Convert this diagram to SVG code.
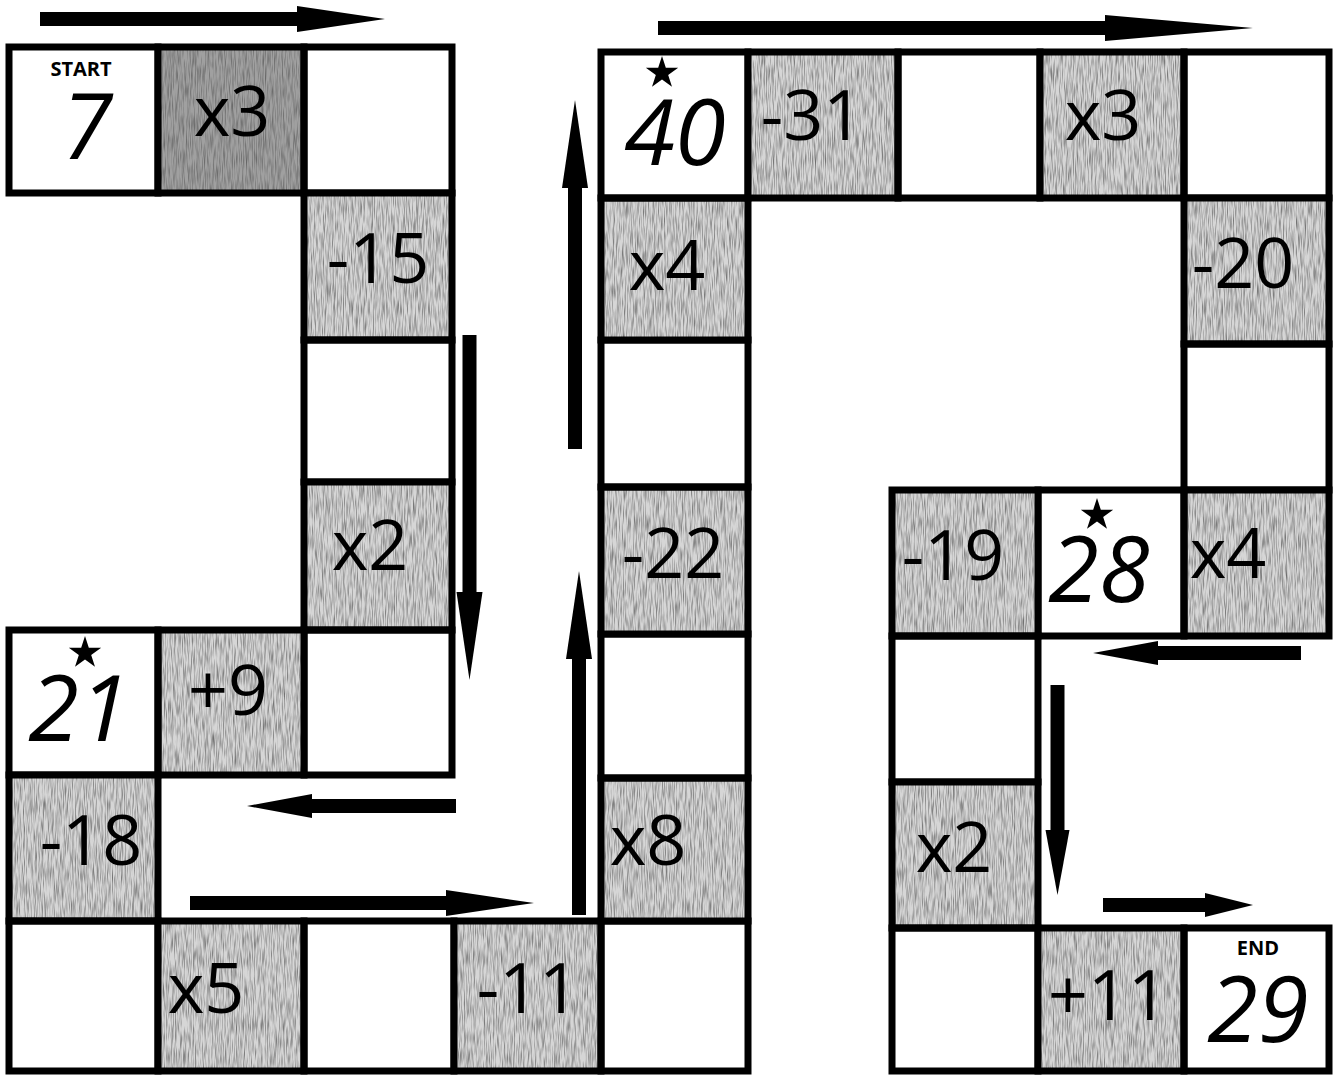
<svg xmlns="http://www.w3.org/2000/svg" xmlns:xlink="http://www.w3.org/1999/xlink" width="1334" height="1076" viewBox="0 0 1334 1076">
<style>
.cell{fill:none;stroke:#000;stroke-width:7}
.white{fill:#fff}
.light{fill:#d6d6d6}
.dark{fill:#a0a0a0}
.op{font-family:"Open Sans","Noto Sans",sans-serif;font-size:70px;fill:#000;text-anchor:middle}
.big{font-family:"Open Sans","Noto Sans",sans-serif;font-size:92px;font-style:italic;fill:#000;text-anchor:middle}
.tag{font-family:"Open Sans","Noto Sans",sans-serif;font-size:20px;font-weight:bold;fill:#000;text-anchor:middle}
.arrow{stroke:#000;stroke-width:14;fill:none}
</style>
<defs>
<filter id="grain" x="0" y="0" width="1" height="1" color-interpolation-filters="sRGB">
<feTurbulence type="fractalNoise" baseFrequency="0.9 0.06" numOctaves="2" seed="5" result="n"/>
<feColorMatrix in="n" type="matrix" values="0 0 0 0 0.35  0 0 0 0 0.35  0 0 0 0 0.35  1.6 0 0 0 -0.62" result="s"/>
<feComposite in="s" in2="SourceGraphic" operator="over"/>
</filter>
<path id="star" d="M0,-17 L3.82,-5.26 L16.17,-5.25 L6.18,2.01 L9.99,13.75 L0,6.5 L-9.99,13.75 L-6.18,2.01 L-16.17,-5.25 L-3.82,-5.26 Z" fill="#000"/>
<marker id="h88" markerUnits="userSpaceOnUse" markerWidth="90" markerHeight="26" refX="0" refY="13" orient="auto" overflow="visible"><path d="M0,0 L88,13 L0,26 Z" fill="#000"/></marker>
<marker id="h65" markerUnits="userSpaceOnUse" markerWidth="66" markerHeight="24" refX="0" refY="12" orient="auto" overflow="visible"><path d="M0,0 L65,12 L0,24 Z" fill="#000"/></marker>
<marker id="h148" markerUnits="userSpaceOnUse" markerWidth="150" markerHeight="26" refX="0" refY="13" orient="auto" overflow="visible"><path d="M0,0 L148,13 L0,26 Z" fill="#000"/></marker>
<marker id="h48" markerUnits="userSpaceOnUse" markerWidth="50" markerHeight="24" refX="0" refY="12" orient="auto" overflow="visible"><path d="M0,0 L48,12 L0,24 Z" fill="#000"/></marker>
</defs>
<rect x="0" y="0" width="1334" height="1076" fill="#fff"/>

<g id="t1"><rect class="white" x="9" y="47" width="149" height="146"/><rect class="cell" x="9" y="47" width="149" height="146"/><text class="tag" x="81" y="76">START</text><text class="big" x="87" y="159">7</text></g>
<g id="t2"><rect class="dark" filter="url(#grain)" x="158" y="47" width="146" height="146"/><rect class="cell" x="158" y="47" width="146" height="146"/><text class="op" x="232" y="136">x3</text></g>
<g id="t3"><rect class="cell" x="304" y="47" width="148" height="146"/></g>
<g id="t4"><rect class="light" filter="url(#grain)" x="304" y="193" width="148" height="147"/><rect class="cell" x="304" y="193" width="148" height="147"/><text class="op" x="378" y="283">-15</text></g>
<g id="t5"><rect class="cell" x="304" y="340" width="148" height="142"/></g>
<g id="t6"><rect class="light" filter="url(#grain)" x="304" y="482" width="148" height="148"/><rect class="cell" x="304" y="482" width="148" height="148"/><text class="op" x="370" y="570">x2</text></g>
<g id="t7"><rect class="cell" x="304" y="630" width="148" height="145"/></g>
<g id="t8"><rect class="light" filter="url(#grain)" x="158" y="630" width="146" height="145"/><rect class="cell" x="158" y="630" width="146" height="145"/><text class="op" x="228" y="715">+9</text></g>
<g id="t9"><rect class="cell" x="9" y="630" width="149" height="145"/><use xlink:href="#star" x="85" y="653"/><text class="big" x="79" y="741">21</text></g>
<g id="t10"><rect class="light" filter="url(#grain)" x="9" y="775" width="149" height="146"/><rect class="cell" x="9" y="775" width="149" height="146"/><text class="op" x="91" y="865">-18</text></g>
<g id="t11"><rect class="cell" x="9" y="921" width="149" height="150"/></g>
<g id="t12"><rect class="light" filter="url(#grain)" x="158" y="921" width="146" height="150"/><rect class="cell" x="158" y="921" width="146" height="150"/><text class="op" x="206" y="1013">x5</text></g>
<g id="t13"><rect class="cell" x="304" y="921" width="150" height="150"/></g>
<g id="t14"><rect class="light" filter="url(#grain)" x="454" y="921" width="147" height="150"/><rect class="cell" x="454" y="921" width="147" height="150"/><text class="op" x="528" y="1013">-11</text></g>
<g id="t15"><rect class="cell" x="601" y="921" width="147" height="150"/></g>
<g id="t16"><rect class="light" filter="url(#grain)" x="601" y="778" width="147" height="143"/><rect class="cell" x="601" y="778" width="147" height="143"/><text class="op" x="648" y="865">x8</text></g>
<g id="t17"><rect class="cell" x="601" y="634" width="147" height="144"/></g>
<g id="t18"><rect class="light" filter="url(#grain)" x="601" y="487" width="147" height="147"/><rect class="cell" x="601" y="487" width="147" height="147"/><text class="op" x="673" y="578">-22</text></g>
<g id="t19"><rect class="cell" x="601" y="340" width="147" height="147"/></g>
<g id="t20"><rect class="light" filter="url(#grain)" x="601" y="198" width="147" height="142"/><rect class="cell" x="601" y="198" width="147" height="142"/><text class="op" x="667" y="290">x4</text></g>
<g id="t21"><rect class="cell" x="601" y="52" width="147" height="146"/><use xlink:href="#star" x="662" y="73"/><text class="big" x="675" y="165">40</text></g>
<g id="t22"><rect class="light" filter="url(#grain)" x="748" y="52" width="150" height="146"/><rect class="cell" x="748" y="52" width="150" height="146"/><text class="op" x="812" y="140">-31</text></g>
<g id="t23"><rect class="cell" x="898" y="52" width="142" height="146"/></g>
<g id="t24"><rect class="light" filter="url(#grain)" x="1040" y="52" width="144" height="146"/><rect class="cell" x="1040" y="52" width="144" height="146"/><text class="op" x="1103" y="140">x3</text></g>
<g id="t25"><rect class="cell" x="1184" y="52" width="145" height="146"/></g>
<g id="t26"><rect class="light" filter="url(#grain)" x="1184" y="198" width="145" height="146"/><rect class="cell" x="1184" y="198" width="145" height="146"/><text class="op" x="1243" y="288">-20</text></g>
<g id="t27"><rect class="cell" x="1184" y="344" width="145" height="146"/></g>
<g id="t28"><rect class="light" filter="url(#grain)" x="1184" y="490" width="145" height="146"/><rect class="cell" x="1184" y="490" width="145" height="146"/><text class="op" x="1228" y="578">x4</text></g>
<g id="t29"><rect class="cell" x="1038" y="490" width="146" height="146"/><use xlink:href="#star" x="1097" y="515"/><text class="big" x="1099" y="602">28</text></g>
<g id="t30"><rect class="light" filter="url(#grain)" x="892" y="490" width="146" height="146"/><rect class="cell" x="892" y="490" width="146" height="146"/><text class="op" x="953" y="580">-19</text></g>
<g id="t31"><rect class="cell" x="892" y="636" width="146" height="146"/></g>
<g id="t32"><rect class="light" filter="url(#grain)" x="892" y="782" width="146" height="146"/><rect class="cell" x="892" y="782" width="146" height="146"/><text class="op" x="954" y="872">x2</text></g>
<g id="t33"><rect class="cell" x="892" y="928" width="146" height="143"/></g>
<g id="t34"><rect class="light" filter="url(#grain)" x="1038" y="928" width="146" height="143"/><rect class="cell" x="1038" y="928" width="146" height="143"/><text class="op" x="1108" y="1020">+11</text></g>
<g id="t35"><rect class="cell" x="1184" y="928" width="145" height="143"/><text class="tag" x="1258" y="955">END</text><text class="big" x="1258" y="1042">29</text></g>

<g id="connectors">
<line class="arrow" x1="40" y1="19" x2="297" y2="19" marker-end="url(#h88)"/>
<line class="arrow" x1="469.5" y1="335" x2="469.5" y2="592" marker-end="url(#h88)"/>
<line class="arrow" x1="456" y1="806" x2="312" y2="806" marker-end="url(#h65)"/>
<line class="arrow" x1="190" y1="903" x2="446" y2="903" marker-end="url(#h88)"/>
<line class="arrow" x1="579" y1="915" x2="579" y2="659" marker-end="url(#h88)"/>
<line class="arrow" x1="575" y1="449" x2="575" y2="188" marker-end="url(#h88)"/>
<line class="arrow" x1="658" y1="28" x2="1105" y2="28" marker-end="url(#h148)"/>
<line class="arrow" x1="1301" y1="653" x2="1158" y2="653" marker-end="url(#h65)"/>
<line class="arrow" x1="1057.5" y1="685" x2="1057.5" y2="830" marker-end="url(#h65)"/>
<line class="arrow" x1="1103" y1="905" x2="1205" y2="905" marker-end="url(#h48)"/>
</g>
</svg>
